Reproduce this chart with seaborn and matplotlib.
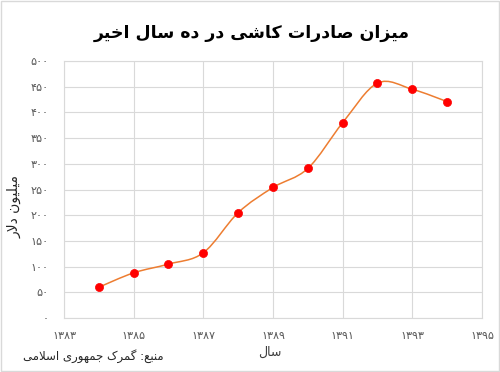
import numpy as np
import pandas as pd
import seaborn as sns
from matplotlib import pyplot as plt
from matplotlib.path import Path
from matplotlib.patches import PathPatch, Rectangle
from matplotlib.ticker import FuncFormatter

# data
years = [1384, 1385, 1386, 1387, 1388, 1389, 1390, 1391, 1392, 1393, 1394]
exports = [60, 88, 105, 127, 205, 254, 291, 380, 457, 445, 421]  # million dollars
x_ticks = [1383, 1385, 1387, 1389, 1391, 1393, 1395]
y_ticks = [0, 50, 100, 150, 200, 250, 300, 350, 400, 450, 500]

title_text = 'میزان صادرات کاشی در ده سال اخیر'
ylabel_text = 'میلیون دلار'
xlabel_text = 'سال'
source_text = 'منبع: گمرک جمهوری اسلامی'

# matplotlib has no arabic shaping, so pick presentation forms by hand
# (isolated, final, initial, medial) - right-joining letters have no initial/medial
FORMS = {
    'ا': ('\uFE8D', '\uFE8E', None, None),
    'ب': ('\uFE8F', '\uFE90', '\uFE91', '\uFE92'),
    'ت': ('\uFE95', '\uFE96', '\uFE97', '\uFE98'),
    'ج': ('\uFE9D', '\uFE9E', '\uFE9F', '\uFEA0'),
    'خ': ('\uFEA5', '\uFEA6', '\uFEA7', '\uFEA8'),
    'د': ('\uFEA9', '\uFEAA', None, None),
    'ر': ('\uFEAD', '\uFEAE', None, None),
    'ز': ('\uFEAF', '\uFEB0', None, None),
    'س': ('\uFEB1', '\uFEB2', '\uFEB3', '\uFEB4'),
    'ش': ('\uFEB5', '\uFEB6', '\uFEB7', '\uFEB8'),
    'ص': ('\uFEB9', '\uFEBA', '\uFEBB', '\uFEBC'),
    'ع': ('\uFEC9', '\uFECA', '\uFECB', '\uFECC'),
    'ل': ('\uFEDD', '\uFEDE', '\uFEDF', '\uFEE0'),
    'م': ('\uFEE1', '\uFEE2', '\uFEE3', '\uFEE4'),
    'ن': ('\uFEE5', '\uFEE6', '\uFEE7', '\uFEE8'),
    'ه': ('\uFEE9', '\uFEEA', '\uFEEB', '\uFEEC'),
    'و': ('\uFEED', '\uFEEE', None, None),
    'ک': ('\uFB8E', '\uFB8F', '\uFB90', '\uFB91'),
    'گ': ('\uFB92', '\uFB93', '\uFB94', '\uFB95'),
    'ی': ('\uFBFC', '\uFBFD', '\uFBFE', '\uFBFF'),
    'لا': ('\uFEFB', '\uFEFC', None, None),
}


def shape_fa(text):
    units = []
    i = 0
    while i < len(text):
        if text[i] == 'ل' and i + 1 < len(text) and text[i + 1] == 'ا':
            units.append('لا')
            i += 2
        else:
            units.append(text[i])
            i += 1
    out = []
    for k, u in enumerate(units):
        if u not in FORMS:
            out.append(u)
            continue
        prev = units[k - 1] if k > 0 else None
        nxt = units[k + 1] if k + 1 < len(units) else None
        join_prev = prev in FORMS and FORMS[prev][2] is not None
        join_next = FORMS[u][2] is not None and nxt in FORMS
        iso, fin, ini, med = FORMS[u]
        if join_prev and join_next:
            out.append(med)
        elif join_prev:
            out.append(fin)
        elif join_next:
            out.append(ini)
        else:
            out.append(iso)
    return ''.join(reversed(out))


def fa_digits(v, pos=None):
    return str(int(round(v))).translate(str.maketrans('0123456789', '۰۱۲۳۴۵۶۷۸۹'))


sns.set_style("whitegrid", {"grid.color": "#D9D9D9", "axes.edgecolor": "#D9D9D9"})
plt.rcParams['font.family'] = ['DejaVu Sans']

df = pd.DataFrame({'year': years, 'value': exports})

fig, ax = plt.subplots(figsize=(5, 3.72), dpi=100)
fig.subplots_adjust(left=0.128, right=0.964, bottom=0.145, top=0.836)

# smoothed line like excel: bezier segments with catmull-rom control points
pts = df[['year', 'value']].to_numpy(dtype=float)
ext = np.vstack([pts[0], pts, pts[-1]])
verts = [tuple(pts[0])]
codes = [Path.MOVETO]
for i in range(1, len(ext) - 2):
    p0, p1, p2, p3 = ext[i - 1], ext[i], ext[i + 1], ext[i + 2]
    verts += [tuple(p1 + (p2 - p0) / 6), tuple(p2 - (p3 - p1) / 6), tuple(p2)]
    codes += [Path.CURVE4] * 3
ax.add_patch(PathPatch(Path(verts, codes), facecolor='none', edgecolor='#ED7D31', lw=1.1, zorder=2))

sns.scatterplot(data=df, x='year', y='value', color='#FF0000', s=34, edgecolor='#FF0000',
                linewidth=0.5, zorder=3, ax=ax)

ax.set_xlim(x_ticks[0], x_ticks[-1])
ax.set_ylim(y_ticks[0], y_ticks[-1])
ax.set_xticks(x_ticks)
ax.set_yticks(y_ticks)
ax.xaxis.set_major_formatter(FuncFormatter(fa_digits))
ax.yaxis.set_major_formatter(FuncFormatter(fa_digits))
ax.tick_params(axis='both', length=0, labelsize=8, labelcolor='#595959')
ax.tick_params(axis='y', pad=11)
ax.tick_params(axis='x', pad=9)
ax.grid(True, color='#D9D9D9', linewidth=0.8)
for s in ax.spines.values():
    s.set_color('#D9D9D9')
    s.set_linewidth(0.8)
ax.set_xlabel('')
ax.set_ylabel('')

fig.text(0.504, 0.91, shape_fa(title_text), ha='center', va='center', fontsize=12.5,
         fontweight='bold', color='black')
fig.text(0.028, 0.445, shape_fa(ylabel_text), ha='center', va='center', rotation=90,
         fontsize=10, color='#262626')
fig.text(0.54, 0.052, shape_fa(xlabel_text), ha='center', va='center', fontsize=9,
         color='#404040')
fig.text(0.327, 0.042, shape_fa(source_text), ha='right', va='center', fontsize=8.5,
         color='#262626')

# light border around the chart area
fig.patches.append(Rectangle((0.002, 0.003), 0.996, 0.994, transform=fig.transFigure,
                             fill=False, edgecolor='#D9D9D9', linewidth=1))

fig.savefig('out.png', dpi=100)
